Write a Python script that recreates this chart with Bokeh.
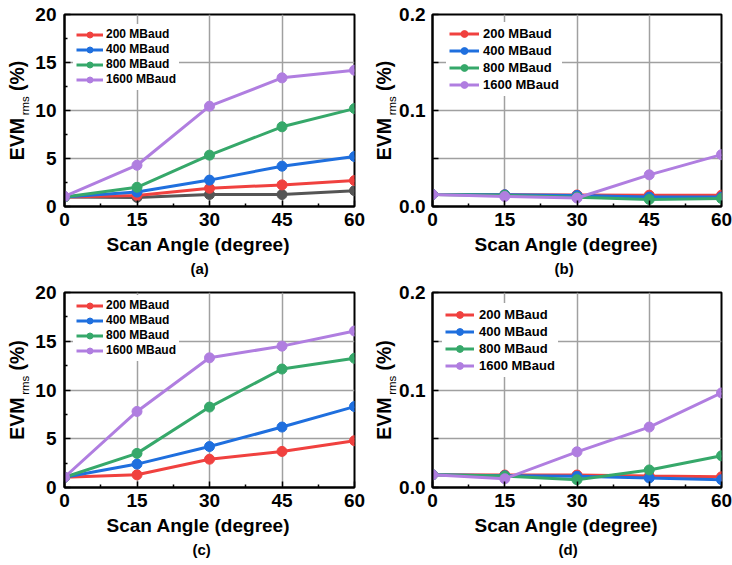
from bokeh.plotting import figure
from bokeh.models import (Range1d, FixedTicker, Legend, LegendItem, Title)
from bokeh.layouts import gridplot
from bokeh.embed import file_html
from bokeh.resources import INLINE

# ---------------- data ----------------
angles = [0, 15, 30, 45, 60]
series_names = ["200 MBaud", "400 MBaud", "800 MBaud", "1600 MBaud"]

a_200 = [1.0, 1.15, 1.9, 2.25, 2.7]
a_400 = [1.0, 1.5, 2.75, 4.2, 5.2]
a_800 = [1.0, 2.0, 5.35, 8.3, 10.2]
a_1600 = [1.05, 4.3, 10.45, 13.4, 14.2]
a_gray = [1.0, 0.95, 1.25, 1.25, 1.65]

b_200 = [0.0125, 0.0122, 0.012, 0.0118, 0.0118]
b_400 = [0.0125, 0.0122, 0.0115, 0.0098, 0.0098]
b_800 = [0.0125, 0.0116, 0.0097, 0.0074, 0.0083]
b_1600 = [0.0125, 0.0104, 0.0088, 0.033, 0.054]

c_200 = [1.05, 1.3, 2.9, 3.7, 4.8]
c_400 = [1.05, 2.4, 4.2, 6.2, 8.3]
c_800 = [1.05, 3.5, 8.25, 12.15, 13.25]
c_1600 = [1.05, 7.8, 13.3, 14.5, 16.05]

d_200 = [0.013, 0.0128, 0.0128, 0.0117, 0.011]
d_400 = [0.013, 0.012, 0.0115, 0.0098, 0.008]
d_800 = [0.013, 0.0118, 0.008, 0.018, 0.0325]
d_1600 = [0.013, 0.009, 0.0366, 0.062, 0.097]

x_ticks = [0, 15, 30, 45, 60]
x_minor = [7.5, 22.5, 37.5, 52.5]
y_ticks_big = [0, 5, 10, 15, 20]
y_minor_big = [2.5, 7.5, 12.5, 17.5]
y_ticks_small = [0.0, 0.05, 0.1, 0.15, 0.2]
y_labels_small = {0.0: "0.0", 0.05: "", 0.1: "0.1", 0.15: "", 0.2: "0.2"}
x_title = "Scan Angle (degree)"
y_title_main = "EVM\u00a0\u00a0\u00a0\u00a0\u00a0(%)"
y_title_sub = "\u00a0\u00a0\u00a0rms"
captions = ["(a)", "(b)", "(c)", "(d)"]

colors = ["#f0413f", "#1f6fde", "#36a86a", "#b07ee0"]
gray = "#555555"
FONT = "Liberation Sans"


def make_panel(series, caption, cap_off, small, width, height, left, right,
               top, bottom, leg, extra=None):
    p = figure(width=width, height=height, output_backend="svg",
               toolbar_location=None, tools="",
               x_range=Range1d(0, 60),
               y_range=Range1d(0, 0.2 if small else 20),
               min_border_left=left, min_border_right=right,
               min_border_top=top, min_border_bottom=bottom)
    p.background_fill_color = "white"
    p.border_fill_color = "white"
    p.outline_line_color = "black"
    p.outline_line_width = 2

    p.xaxis.ticker = FixedTicker(ticks=x_ticks, minor_ticks=x_minor)
    if small:
        p.yaxis.ticker = FixedTicker(ticks=y_ticks_small, minor_ticks=[])
        p.yaxis.major_label_overrides = y_labels_small
    else:
        p.yaxis.ticker = FixedTicker(ticks=y_ticks_big, minor_ticks=y_minor_big)

    for ax in (p.xaxis[0], p.yaxis[0]):
        ax.axis_line_color = "black"
        ax.axis_line_width = 2
        ax.major_tick_in = 6
        ax.major_tick_out = 0
        ax.minor_tick_in = 3
        ax.minor_tick_out = 0
        ax.major_tick_line_color = "black"
        ax.major_tick_line_width = 1.5
        ax.minor_tick_line_color = "black"
        ax.minor_tick_line_width = 1.5
        ax.major_label_text_font = FONT
        ax.major_label_text_font_style = "bold"
        ax.major_label_text_font_size = "19px"
        ax.major_label_text_color = "black"
    p.xaxis.major_label_standoff = 6
    p.yaxis.major_label_standoff = 7 if small else 8

    # y title: subscript as the axis label, main text as a title outside it
    p.yaxis.axis_label = y_title_sub
    p.yaxis.axis_label_text_font = FONT
    p.yaxis.axis_label_text_font_style = "normal"
    p.yaxis.axis_label_text_font_size = "11.5px"
    p.yaxis.axis_label_text_color = "black"
    p.yaxis.axis_label_standoff = -2 if small else 1
    p.add_layout(Title(text=y_title_main, align="center", standoff=-22,
                       text_font=FONT, text_font_style="bold",
                       text_font_size="19.5px", text_color="black"), "left")

    # x title and caption
    p.add_layout(Title(text=x_title, align="left", offset=42, standoff=6,
                       text_font=FONT, text_font_style="bold",
                       text_font_size="19px", text_color="black"), "below")
    p.add_layout(Title(text=caption, align="left", offset=cap_off, standoff=1,
                       text_font=FONT, text_font_style="bold",
                       text_font_size="15px", text_color="black"), "below")

    p.xgrid.grid_line_color = "#a0a0a0"
    p.xgrid.grid_line_width = 1.5
    p.ygrid.grid_line_color = "#a0a0a0"
    p.ygrid.grid_line_width = 1.5

    if extra is not None:
        p.line(angles, extra, line_color=gray, line_width=3)
        p.scatter(angles, extra, size=10, fill_color=gray, line_color=gray)

    items = []
    for name, vals, col in zip(series_names, series, colors):
        lr = p.line(angles, vals, line_color=col, line_width=3)
        sr = p.scatter(angles, vals, size=10, fill_color=col, line_color=col)
        items.append(LegendItem(label=name, renderers=[lr, sr]))

    frame_h = height - top - bottom
    x_off, c_off, gh, gw, standoff, fsize = leg
    pad = 3
    leg_h = 2 * pad + 4 * gh
    top_off = c_off - gh / 2 - pad
    vy = frame_h - top_off - leg_h
    vx = x_off - pad
    legend = Legend(items=items, location=(vx, vy), padding=pad, margin=0,
                    spacing=0, glyph_width=gw, glyph_height=gh,
                    label_height=gh, label_standoff=standoff,
                    label_text_font=FONT, label_text_font_style="bold",
                    label_text_font_size=fsize, label_text_color="black",
                    background_fill_color="white", background_fill_alpha=1.0,
                    border_line_alpha=0)
    p.add_layout(legend)
    return p


pa = make_panel([a_200, a_400, a_800, a_1600], captions[0], 126, False,
                366, 282, 64, 12, 14, 76, (12, 20, 15, 27, 3, "12px"), extra=a_gray)
pb = make_panel([b_200, b_400, b_800, b_1600], captions[1], 122, True,
                366, 282, 66, 11, 14, 76, (17, 19, 17, 30, 4, "13px"))
pc = make_panel([c_200, c_400, c_800, c_1600], captions[2], 128, False,
                366, 283, 64, 12, 9, 78, (12, 14, 15, 27, 3, "12px"))
pd = make_panel([d_200, d_400, d_800, d_1600], captions[3], 126, True,
                366, 283, 66, 11, 10, 78, (13, 22, 17, 29, 5, "13px"))

grid = gridplot([[pa, pb], [pc, pd]], toolbar_location=None)

open("out.html", "w").write(file_html(grid, INLINE))
